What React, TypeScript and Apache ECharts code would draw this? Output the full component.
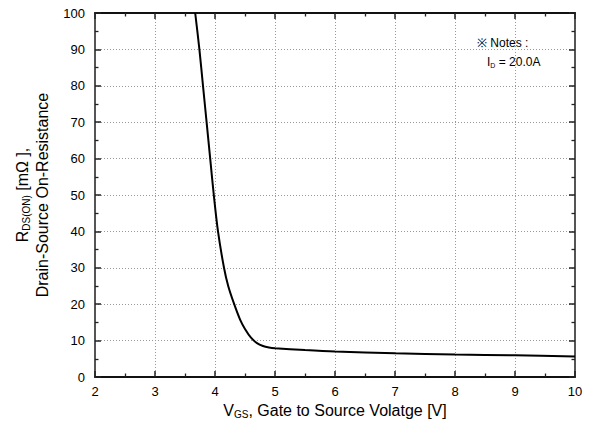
import React, { useEffect, useRef } from "react";
import * as echarts from "echarts";

const vgs = [3.67, 3.74, 3.8, 3.86, 3.92, 3.98, 4.05, 4.15, 4.22, 4.32, 4.42, 4.5, 4.6, 4.7, 4.8, 4.9, 5.0, 5.5, 6, 7, 8, 9, 10];
const rdson = [100, 90, 80, 70, 60, 50, 40, 30, 25, 20, 15.7, 13.2, 10.8, 9.3, 8.5, 8.1, 7.9, 7.4, 7.0, 6.5, 6.2, 5.95, 5.6];
const xTicks = { min: 2, max: 10, interval: 1 };
const yTicks = { min: 0, max: 100, interval: 10 };

const FONT = "Liberation Sans, Arial, sans-serif";

export default function App() {
  const ref = useRef<HTMLDivElement>(null);
  useEffect(() => {
    if (!ref.current) return;
    const chart = echarts.init(ref.current, null, { renderer: "svg" });
    const xLine = { show: true, onZero: false, lineStyle: { color: "#111", width: 1.8 } };
    const yLine = { show: true, onZero: false, lineStyle: { color: "#555", width: 2 } };
    const tick = { show: true, inside: true, length: 6, lineStyle: { color: "#222", width: 1.5 } };
    const minorTick = { show: true, splitNumber: 2, length: 3.5, lineStyle: { color: "#222", width: 1.3 } };
    const grid = { show: true, lineStyle: { color: "#999", width: 1, type: [1, 2] } };
    const rich = {
      n: { fontSize: 16, fontFamily: FONT, color: "#000" },
      s: { fontSize: 10, fontFamily: FONT, color: "#000", padding: [8, 0, 0, 0] },
    };
    chart.setOption({
      animation: false,
      grid: { left: 95, right: 16, top: 13, bottom: 55, containLabel: false },
      xAxis: [
        {
          type: "value",
          ...xTicks,
          axisLine: xLine,
          axisTick: tick,
          minorTick,
          splitLine: grid,
          axisLabel: { fontSize: 13, fontFamily: FONT, color: "#000", margin: 8 },
          name: "{n|V}{s|GS}{n|, Gate to Source Volatge [V]}",
          nameLocation: "middle",
          nameGap: 24,
          nameTextStyle: { rich },
        },
        {
          type: "value",
          position: "top",
          ...xTicks,
          axisLine: xLine,
          axisTick: tick,
          minorTick,
          splitLine: { show: false },
          axisLabel: { show: false },
        },
      ],
      yAxis: [
        {
          type: "value",
          ...yTicks,
          axisLine: yLine,
          axisTick: tick,
          minorTick,
          splitLine: grid,
          axisLabel: { fontSize: 13, fontFamily: FONT, color: "#000", margin: 10 },
          name: "{n|R}{s|DS(ON)}{n| [mΩ ],}\n{n|Drain-Source On-Resistance}",
          nameLocation: "middle",
          nameGap: 40,
          nameTextStyle: { rich, lineHeight: 20, align: "center" },
        },
        {
          type: "value",
          position: "right",
          ...yTicks,
          axisLine: yLine,
          axisTick: tick,
          minorTick,
          splitLine: { show: false },
          axisLabel: { show: false },
        },
      ],
      series: [
        {
          type: "line",
          data: vgs.map((v, i) => [v, rdson[i]]),
          smooth: 0.3,
          symbol: "none",
          lineStyle: { color: "#000", width: 2 },
          clip: true,
        },
      ],
      graphic: [
        {
          type: "text",
          left: 477,
          top: 37,
          style: { text: "※ Notes :", fontSize: 12, fontFamily: FONT, fill: "#000" },
        },
        {
          type: "text",
          left: 487,
          top: 56,
          style: {
            text: "{a|I}{b|D}{a| = 20.0A}",
            rich: {
              a: { fontSize: 12, fontFamily: FONT, fill: "#000" },
              b: { fontSize: 7, fontFamily: FONT, fill: "#000", padding: [6, 0, 0, 0] },
            },
          },
        },
      ],
    });
    return () => chart.dispose();
  }, []);
  return <div ref={ref} style={{ width: 591, height: 432, margin: -8 }} />;
}
